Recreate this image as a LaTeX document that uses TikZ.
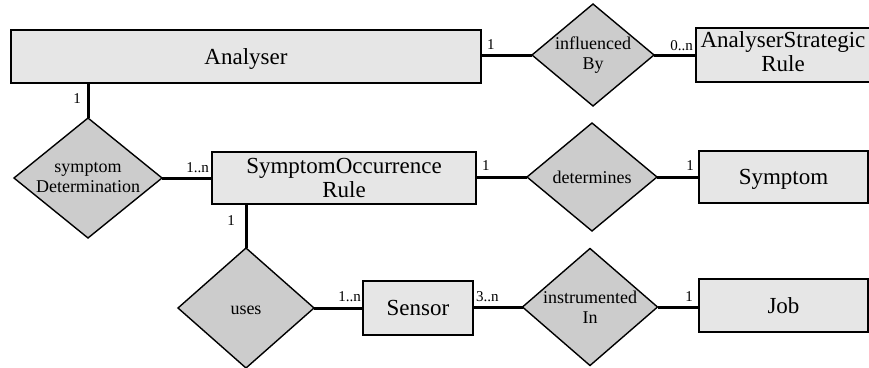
\documentclass[tikz,border=0pt]{standalone}
\usepackage{fontspec}
\setmainfont{Liberation Serif}
\usetikzlibrary{shapes.geometric}
\definecolor{entityfill}{RGB}{230,230,230}
\definecolor{relfill}{RGB}{204,204,204}

\begin{document}
\begin{tikzpicture}[x=1pt,y=-1pt,
  entity/.style={draw=black, line width=2.2pt, fill=entityfill, rectangle,
    inner sep=0pt, outer sep=0pt, font=\fontsize{23}{24}\selectfont, align=center},
  entityone/.style={entity, text height=15.2pt, text depth=0pt},
  rel/.style={draw=black, line width=1.4pt, fill=relfill, diamond,
    inner sep=0pt, outer sep=0pt},
  reltext/.style={font=\fontsize{18}{20}\selectfont, align=center, inner sep=0pt},
  reltextone/.style={reltext, text height=12pt, text depth=0pt},
  conn/.style={line width=3pt},
  card/.style={font=\fontsize{15}{15}\selectfont, inner sep=0pt, text depth=0pt},
]
\useasboundingbox (0,0) rectangle (869,367);
\clip (0,0) rectangle (869,367);

% entities
\node[entityone, minimum width=470pt, minimum height=53pt] (an) at (246,56.5) {Analyser};
\node[entity, minimum width=174pt, minimum height=54pt] (asr) at (783,55) {};
\node[entity, draw=none, fill=none, minimum width=0pt, minimum height=0pt] (asrt) at ([yshift=3pt]asr.center) {AnalyserStrategic\\Rule};
\node[entity, minimum width=264pt, minimum height=52pt] (sor) at (344,178) {SymptomOccurrence\\Rule};
\node[entityone, minimum width=169pt, minimum height=52pt] (sym) at (783.5,177) {Symptom};
\node[entityone, minimum width=110pt, minimum height=54pt] (sen) at (418,308) {Sensor};
\node[entityone, minimum width=169pt, minimum height=53pt] (job) at (783.5,305.5) {Job};

% relationships
\node[rel, minimum width=122pt, minimum height=102pt] (ib) at (593,55) {};
\node[reltext] (ibt) at (ib) {influenced\\By};
\node[rel, minimum width=148pt, minimum height=120pt] (sd) at (88,178) {};
\node[reltext] (sdt) at (sd) {symptom\\Determination};
\node[rel, minimum width=130pt, minimum height=108pt] (det) at (592,177) {};
\node[reltextone] (dett) at (det) {determines};
\node[rel, minimum width=136pt, minimum height=120pt] (uses) at (246,308) {};
\node[reltextone] (usest) at (uses) {uses};
\node[rel, minimum width=135pt, minimum height=117pt] (ii) at (590,307) {};
\node[reltext] (iit) at (ii) {instrumented\\In};

% connectors
\draw[conn] (an.east |- ib.west) -- (ib.west);
\draw[conn] (ib.east) -- (ib.east -| asr.west);
\draw[conn] (sd.north |- an.south) -- (sd.north);
\draw[conn] (sd.east) -- (sd.east -| sor.west);
\draw[conn] (sor.east |- det.west) -- (det.west);
\draw[conn] (det.east) -- (det.east -| sym.west);
\draw[conn] (uses.north |- sor.south) -- (uses.north);
\draw[conn] (uses.east) -- (uses.east -| sen.west);
\draw[conn] (sen.east |- ii.west) -- (ii.west);
\draw[conn] (ii.east) -- (ii.east -| job.west);

% cardinalities
\node[card, anchor=south west] (c1) at ([xshift=6pt,yshift=5pt]an.east |- ib.west) {1};
\node[card, anchor=south east] (c2) at ([xshift=-3pt,yshift=4.5pt]asr.west |- ib.east) {0..n};
\node[card, anchor=north east] (c3) at ([xshift=-7pt,yshift=-10pt]sd.north |- an.south) {1};
\node[card, anchor=south east] (c4) at ([xshift=-3pt,yshift=5pt]sor.west |- sd.east) {1..n};
\node[card, anchor=south west] (c5) at ([xshift=6pt,yshift=6pt]sor.east |- det.west) {1};
\node[card, anchor=south east] (c6) at ([xshift=-5pt,yshift=6pt]sym.west |- det.east) {1};
\node[card, anchor=north east] (c7) at ([xshift=-11pt,yshift=-11pt]uses.north |- sor.south) {1};
\node[card, anchor=south east] (c8) at ([xshift=-2pt,yshift=6pt]sen.west |- uses.east) {1..n};
\node[card, anchor=south west] (c9) at ([xshift=3pt,yshift=5pt]sen.east |- ii.west) {3..n};
\node[card, anchor=south east] (c10) at ([xshift=-6pt,yshift=5pt]job.west |- ii.east) {1};
\end{tikzpicture}
\end{document}
